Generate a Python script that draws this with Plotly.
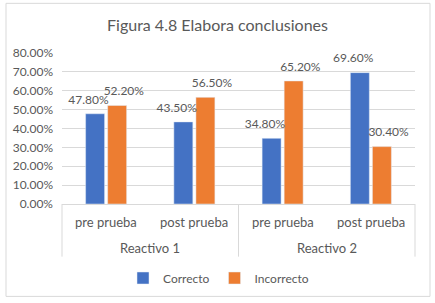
import plotly.graph_objects as go

groups = ["Reactivo 1", "Reactivo 1", "Reactivo 2", "Reactivo 2"]
phases = ["pre prueba", "post prueba", "pre prueba", "post prueba"]
correcto = [0.478, 0.435, 0.348, 0.696]
incorrecto = [0.522, 0.565, 0.652, 0.304]
yticks = [0, 0.1, 0.2, 0.3, 0.4, 0.5, 0.6, 0.7, 0.8]

GRAY = "#595959"
LINE = "#D9D9D9"
FONT = "Lato, 'Open Sans', sans-serif"

fig = go.Figure()
series = [("Correcto", correcto, "#4472C4"), ("Incorrecto", incorrecto, "#ED7D31")]
for name, vals, col in series:
    fig.add_trace(go.Bar(x=[groups, phases], y=vals, name=name, marker_color=col,
                         offsetgroup=name))
for name, vals, col in series:
    fig.add_trace(go.Scatter(
        x=[groups, phases], y=vals, mode="markers+text", showlegend=False, offsetgroup=name,
        marker=dict(size=10, opacity=0),
        text=[f"{v*100:.2f}%" for v in vals], textposition="top center",
        textfont=dict(color=GRAY, size=12, family=FONT), cliponaxis=False, hoverinfo="skip",
    ))

L, R, T, B = 62, 20, 53, 98
W, H = 435, 303
pw = W - L - R
ph = H - T - B

n = len(phases)
inner_y = (205 - 223) / ph
outer_y = (205 - 249) / ph
div_y = (205 - 258) / ph

annotations = []
for i, lab in enumerate(phases):
    annotations.append(dict(text=lab, xref="paper", yref="paper", x=(i + 0.5) / n, y=inner_y,
                            showarrow=False, xanchor="center", yanchor="middle",
                            font=dict(size=13, color=GRAY, family=FONT)))
# group spans
bounds = [0]
for i in range(1, n):
    if groups[i] != groups[i - 1]:
        bounds.append(i)
bounds.append(n)
shapes = [dict(type="rect", xref="paper", yref="paper",
               x0=(6 - L) / pw, x1=(430 - L) / pw,
               y0=(205 - 298) / ph, y1=(205 - 3) / ph,
               line=dict(color=LINE, width=1), layer="below")]
for a, b in zip(bounds[:-1], bounds[1:]):
    annotations.append(dict(text=groups[a], xref="paper", yref="paper", x=(a + b) / 2 / n,
                            y=outer_y, showarrow=False, xanchor="center", yanchor="middle",
                            font=dict(size=13, color=GRAY, family=FONT)))
for k in bounds:
    shapes.append(dict(type="line", xref="paper", yref="paper", x0=k / n, x1=k / n,
                       y0=0, y1=div_y, line=dict(color=LINE, width=1)))

fig.update_layout(
    width=W, height=H,
    margin=dict(l=L, r=R, t=T, b=B),
    paper_bgcolor="white", plot_bgcolor="white",
    barmode="group", bargap=0.5, bargroupgap=0.14,
    scattermode="group", scattergap=0.2,
    font=dict(family=FONT, color=GRAY),
    title=dict(text="Figura 4.8 Elabora conclusiones", x=0.5, xanchor="center",
               y=1 - 25 / H, yanchor="middle", font=dict(size=16, color=GRAY, family=FONT)),
    legend=dict(orientation="h", x=0.5 - 20 / pw, xanchor="center", y=(205 - 278) / ph,
                yanchor="middle", font=dict(size=12, color=GRAY, family=FONT),
                itemwidth=30, traceorder="normal"),
    showlegend=True,
    annotations=annotations,
    shapes=shapes,
)
fig.update_yaxes(range=[0, 0.8], tickvals=yticks, tickformat=".2%", showgrid=True,
                 gridcolor=LINE, gridwidth=1, zeroline=False, showline=False,
                 tickfont=dict(size=12, color=GRAY, family=FONT), ticks="",
                 ticklabelstandoff=8, fixedrange=True)
fig.update_xaxes(showline=True, linecolor=LINE, showticklabels=False, ticks="",
                 showdividers=False)

fig.write_html("out.html")
